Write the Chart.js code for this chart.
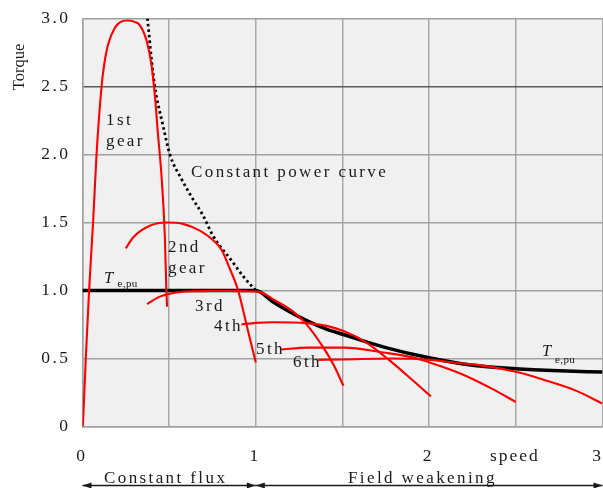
<!DOCTYPE html>
<html><head><meta charset="utf-8">
<script src="https://cdn.jsdelivr.net/npm/chart.js@4.4.1/dist/chart.umd.min.js"></script>
<style>html,body{margin:0;padding:0;background:#fff;overflow:hidden}</style>
</head><body>
<canvas id="c" width="603" height="488"></canvas>
<script>
// ---- data ----
const speedTicks = [0, 0.5, 1, 1.5, 2, 2.5, 3];
const speedTickLabels = ['0', '', '1', '', '2', 'speed', '3'];
const torqueTickLabels = ['0', '0.5', '1.0', '1.5', '2.0', '2.5', '3.0'];

const gear1Speed  = [0.002, 0.019, 0.038, 0.061, 0.081, 0.11, 0.125, 0.148, 0.186, 0.22, 0.26, 0.30, 0.331, 0.369, 0.398, 0.417, 0.436, 0.456, 0.475, 0.484, 0.488];
const gear1Torque = [0, 0.5, 1.0, 1.5, 2.0, 2.5, 2.66, 2.81, 2.93, 2.975, 2.985, 2.975, 2.95, 2.84, 2.66, 2.44, 2.14, 1.84, 1.40, 1.0, 0.88];

const gear2Speed  = [0.25, 0.292, 0.388, 0.485, 0.58, 0.677, 0.754, 0.802, 0.85, 0.898, 0.946, 1.0];
const gear2Torque = [1.31, 1.39, 1.476, 1.50, 1.49, 1.44, 1.37, 1.30, 1.16, 1.0, 0.75, 0.47];

const gear3Speed  = [0.373, 0.446, 0.54, 0.64, 0.75, 0.85, 0.95, 1.02, 1.1, 1.215, 1.29, 1.39, 1.45, 1.505];
const gear3Torque = [0.90, 0.955, 0.985, 0.995, 0.997, 0.997, 0.995, 0.99, 0.935, 0.845, 0.755, 0.58, 0.45, 0.30];

const gear4Speed  = [0.917, 1.0, 1.10, 1.293, 1.408, 1.51, 1.64, 1.773, 1.87, 2.01];
const gear4Torque = [0.75, 0.762, 0.767, 0.76, 0.74, 0.70, 0.615, 0.484, 0.379, 0.222];

const gear5Speed  = [1.14, 1.3, 1.51, 1.735, 1.9, 2.0, 2.18, 2.37, 2.5];
const gear5Torque = [0.566, 0.58, 0.58, 0.544, 0.51, 0.472, 0.39, 0.273, 0.18];

const gear6Speed  = [1.36, 1.51, 1.773, 2.01, 2.177, 2.27, 2.5, 2.66, 2.85, 3.0];
const gear6Torque = [0.49, 0.493, 0.50, 0.49, 0.465, 0.455, 0.402, 0.344, 0.262, 0.168];

const powerSpeed  = [0.375, 0.398, 0.417, 0.465, 0.504, 0.571, 0.638, 0.696, 0.754, 0.86, 0.93, 1.0];
const powerTorque = [3.0, 2.70, 2.5, 2.21, 2.0, 1.82, 1.67, 1.55, 1.40, 1.22, 1.10, 1.0];

const teSpeed  = [0, 1.0, 1.1, 1.2, 1.3, 1.4, 1.5, 1.75, 2.0, 2.25, 2.5, 2.75, 3.0];
const teTorque = [1.0, 1.0, 0.915, 0.84, 0.775, 0.72, 0.678, 0.58, 0.505, 0.45, 0.425, 0.41, 0.40];

const zip = (xs, ys) => xs.map((x, i) => ({x: x, y: ys[i]}));

const RED = '#ff0000';
const TXT = '#1a1a1a';
const SERIF = '"Liberation Serif", "DejaVu Serif", serif';

function redSet(label, xs, ys) {
  return {label, data: zip(xs, ys), borderColor: RED, borderWidth: 2.1, pointRadius: 0};
}

const bgPlugin = {
  id: 'bg',
  beforeDraw(chart) {
    const {ctx, chartArea: a} = chart;
    ctx.save();
    ctx.fillStyle = '#f0f0f0';
    ctx.fillRect(a.left, a.top, a.right - a.left, a.bottom - a.top);
    ctx.restore();
    ctx.letterSpacing = '2.5px';
  }
};

function txt(ctx, s, x, y, size, spacing, style) {
  ctx.font = (style || '') + ' ' + size + 'px ' + SERIF;
  ctx.letterSpacing = spacing + 'px';
  ctx.fillText(s, x, y);
}
function head(ctx, x, y, dir) {
  ctx.beginPath();
  ctx.moveTo(x, y);
  ctx.lineTo(x + dir * 9, y - 3);
  ctx.lineTo(x + dir * 9, y + 3);
  ctx.closePath();
  ctx.fill();
}
function arrow(ctx, x1, x2, y) {
  ctx.beginPath();
  ctx.moveTo(x1, y); ctx.lineTo(x2, y); ctx.stroke();
  head(ctx, x1, y, 1);
  head(ctx, x2, y, -1);
}

const textPlugin = {
  id: 'texts',
  afterDraw(chart) {
    const ctx = chart.ctx;
    const xs = chart.scales.x;
    ctx.save();
    ctx.fillStyle = TXT;
    ctx.strokeStyle = TXT;
    // x tick labels, placed from the scale
    ctx.textAlign = 'center';
    ctx.textBaseline = 'alphabetic';
    speedTicks.forEach((v, i) => {
      const lab = speedTickLabels[i];
      if (!lab) return;
      let px = xs.getPixelForValue(v) - 2;
      if (i === speedTicks.length - 1) px -= 4;
      ctx.font = '17.5px ' + SERIF;
      ctx.letterSpacing = (lab.length > 1 ? 2 : 0) + 'px';
      ctx.fillText(lab, px + (lab.length > 1 ? 1 : 0), 461);
    });
    ctx.textAlign = 'left';
    const S = 17, SP = 2.4;
    txt(ctx, '1st', 106, 125, S, SP);
    txt(ctx, 'gear', 106, 146, S, SP);
    txt(ctx, 'Constant power curve', 191, 177, S, SP);
    txt(ctx, '2nd', 168, 252, S, SP);
    txt(ctx, 'gear', 168, 273, S, SP);
    txt(ctx, '3rd', 195, 311, S, SP);
    txt(ctx, '4th', 214, 331, S, SP);
    txt(ctx, '5th', 256, 354, S, SP);
    txt(ctx, '6th', 293, 367, S, SP);
    // T e,pu labels
    txt(ctx, 'T', 104, 282.5, 16.5, 0, 'italic');
    txt(ctx, 'e,pu', 117.5, 287, 11, 0.4);
    txt(ctx, 'T', 542, 356.3, 16.5, 0, 'italic');
    txt(ctx, 'e,pu', 555, 362.5, 11, 0.4);
    // region labels
    txt(ctx, 'Constant flux', 104, 483, S, SP);
    txt(ctx, 'Field weakening', 348, 483, S, SP);
    ctx.lineWidth = 1.3;
    const p0 = xs.getPixelForValue(0), p1 = xs.getPixelForValue(1), p3 = xs.getPixelForValue(3);
    arrow(ctx, p0, p1, 485.5);
    arrow(ctx, p1, p3, 485.5);
    // axis title
    ctx.translate(24, 67);
    ctx.rotate(-Math.PI / 2);
    ctx.textAlign = 'center';
    txt(ctx, 'Torque', 0, 0, 16.5, 0);
    ctx.restore();
  }
};

new Chart(document.getElementById('c'), {
  type: 'line',
  data: {
    datasets: [
      redSet('1st gear', gear1Speed, gear1Torque),
      redSet('2nd gear', gear2Speed, gear2Torque),
      redSet('3rd gear', gear3Speed, gear3Torque),
      redSet('4th gear', gear4Speed, gear4Torque),
      redSet('5th gear', gear5Speed, gear5Torque),
      redSet('6th gear', gear6Speed, gear6Torque),
      {label: 'Constant power curve', data: zip(powerSpeed, powerTorque), borderColor: '#000', borderWidth: 2.8, borderDash: [2.5, 3], pointRadius: 0},
      {label: 'Te,pu', data: zip(teSpeed, teTorque), borderColor: '#000', borderWidth: 3.5, pointRadius: 0}
    ]
  },
  options: {
    responsive: false,
    animation: false,
    devicePixelRatio: 1,
    layout: {padding: {top: 18.5, right: 0.5, left: 0, bottom: 0}},
    plugins: {legend: {display: false}, tooltip: {enabled: false}},
    elements: {line: {cubicInterpolationMode: 'monotone', fill: false, borderCapStyle: 'butt'}, point: {radius: 0}},
    scales: {
      x: {
        type: 'linear', min: 0, max: 3,
        afterFit(s) { s.height = 61.5; s.paddingLeft = 0; s.paddingRight = 0; },
        border: {color: '#a0a0a0', width: 1.5},
        grid: {color: '#a8a8a8', lineWidth: 1.5, drawTicks: false, tickLength: 0},
        ticks: {stepSize: 0.5, autoSkip: false, maxRotation: 0, display: false}
      },
      y: {
        type: 'linear', min: 0, max: 3,
        afterFit(s) { s.width = 82.5; s.paddingTop = 0; s.paddingBottom = 0; },
        border: {color: '#a0a0a0', width: 1.5},
        grid: {
          color: c => (c.tick && c.tick.value === 2.5) ? '#5a5a5a' : '#a0a0a0',
          lineWidth: 1.5, drawTicks: false, tickLength: 0
        },
        ticks: {
          stepSize: 0.5, autoSkip: false, padding: 12,
          color: TXT, font: {family: SERIF, size: 17.5},
          callback: (v, i) => torqueTickLabels[i]
        }
      }
    }
  },
  plugins: [bgPlugin, textPlugin]
});
</script>
</body></html>
